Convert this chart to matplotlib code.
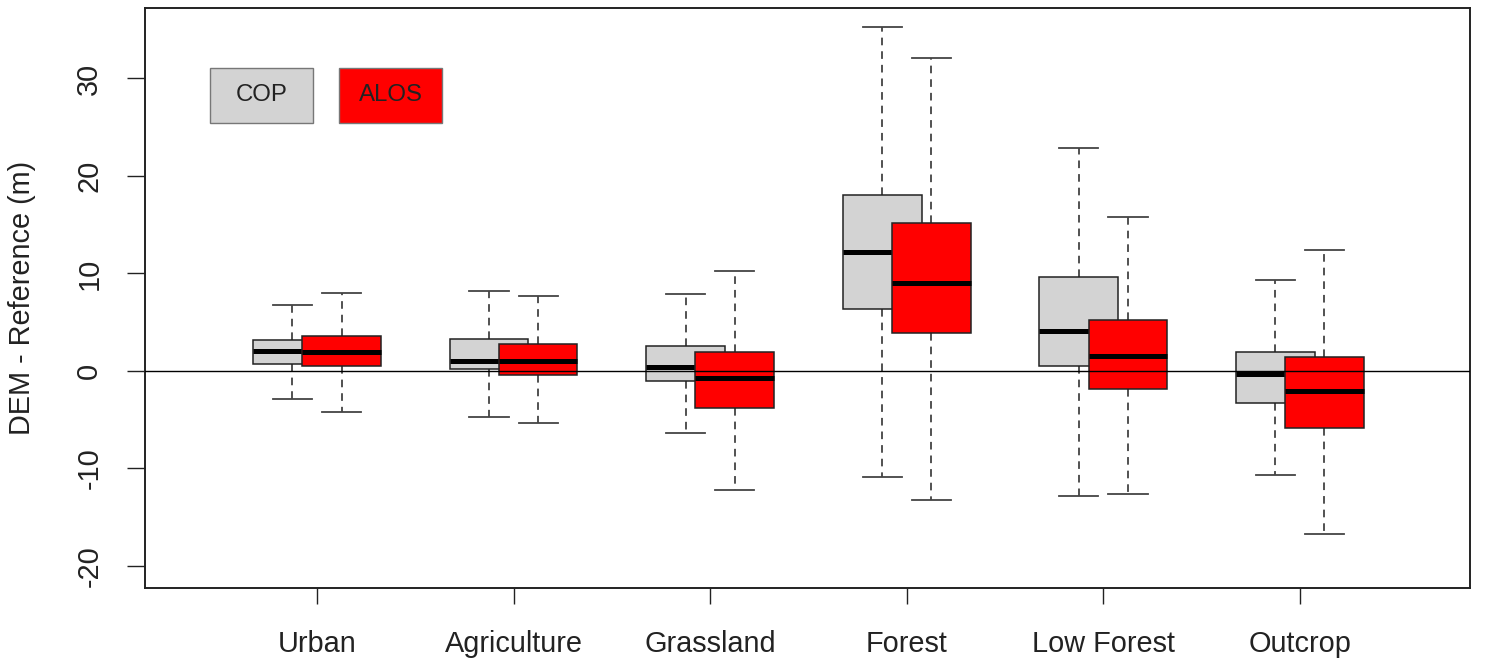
import matplotlib
matplotlib.use("Agg")
import matplotlib.pyplot as plt
from matplotlib.patches import Rectangle

plt.rcParams['font.family'] = ['Liberation Sans', 'DejaVu Sans']
plt.rcParams['lines.scale_dashes'] = False
plt.rcParams['axes.unicode_minus'] = False

# values
categories = ['Urban', 'Agriculture', 'Grassland', 'Forest', 'Low Forest', 'Outcrop']

cop_whislo = [-2.9, -4.7, -6.4, -10.9, -12.8, -10.7]
cop_q1 = [0.7, 0.2, -1.0, 6.4, 0.55, -3.25]
cop_med = [2.0, 1.05, 0.4, 12.2, 4.1, -0.3]
cop_q3 = [3.2, 3.3, 2.6, 18.0, 9.6, 1.9]
cop_whishi = [6.8, 8.2, 7.9, 35.3, 22.9, 9.3]

alos_whislo = [-4.2, -5.3, -12.2, -13.2, -12.6, -16.7]
alos_q1 = [0.55, -0.4, -3.8, 3.9, -1.9, -5.9]
alos_med = [1.95, 1.05, -0.7, 9.0, 1.5, -2.1]
alos_q3 = [3.55, 2.8, 1.9, 15.2, 5.2, 1.45]
alos_whishi = [8.0, 7.7, 10.3, 32.1, 15.8, 12.4]

series_names = ['COP', 'ALOS']
series_colors = ['#d3d3d3', '#ff0000']


def make_stats(lo, q1, med, q3, hi):
    return [dict(whislo=a, q1=b, med=c, q3=d, whishi=e)
            for a, b, c, d, e in zip(lo, q1, med, q3, hi)]


stats = [make_stats(cop_whislo, cop_q1, cop_med, cop_q3, cop_whishi),
         make_stats(alos_whislo, alos_q1, alos_med, alos_q3, alos_whishi)]
offsets = [-0.125, 0.125]

fig = plt.figure(figsize=(14.86, 6.65), dpi=100)
ax = fig.add_axes([0.0976, 0.1158, 0.8916, 0.8722])

for k in range(2):
    pos = [i + offsets[k] for i in range(len(categories))]
    z = 2 + 2 * k
    ax.bxp(stats[k], positions=pos, widths=0.4, capwidths=0.2,
           patch_artist=True, showfliers=False, manage_ticks=False,
           boxprops=dict(facecolor=series_colors[k], edgecolor='#222222', linewidth=1.1, zorder=z),
           medianprops=dict(color='black', linewidth=3.6, solid_capstyle='butt', zorder=z + 0.5),
           whiskerprops=dict(color='#222222', linewidth=1.1, linestyle=(0, (5.5, 4.3)), zorder=z),
           capprops=dict(color='#444444', linewidth=1.3, zorder=z))

ax.axhline(0, color='black', linewidth=1.0, zorder=10)

ax.set_xlim(-0.875, 5.865)
ax.set_ylim(-22.26, 37.23)

ax.set_xticks(range(len(categories)))
ax.set_xticklabels(categories)
ax.set_yticks([-20, -10, 0, 10, 20, 30])
ax.tick_params(axis='x', length=11.5, width=1.0, pad=19, labelsize=20.8, colors='#222222')
ax.tick_params(axis='y', length=13, width=1.0, pad=17, labelsize=20.8, colors='#222222',
               labelrotation=90)
for lab in ax.get_yticklabels():
    lab.set_va('center')

for sp in ax.spines.values():
    sp.set_linewidth(1.4)
    sp.set_color('#222222')

ax.set_ylabel('DEM - Reference (m)', fontsize=20.8, color='#222222')
ax.yaxis.set_label_coords(-0.082, 0.5)

# legend boxes with text inside
leg_x = [0.049, 0.1464]
for k in range(2):
    ax.add_patch(Rectangle((leg_x[k], 0.802), 0.0777, 0.0948, transform=ax.transAxes,
                           facecolor=series_colors[k], edgecolor='#777777', linewidth=1.0,
                           zorder=11))
    ax.text(leg_x[k] + 0.0777 / 2, 0.802 + 0.0948 / 2, series_names[k], transform=ax.transAxes,
            ha='center', va='center', fontsize=17.3, color='#222222', zorder=12)

fig.savefig('out.png', dpi=100)
